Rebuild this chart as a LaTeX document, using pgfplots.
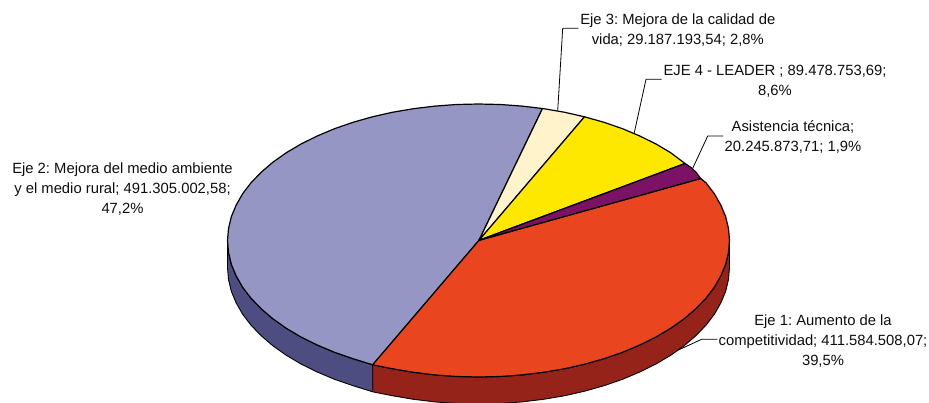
\documentclass[border=0pt]{standalone}
\usepackage{pgfplots}
\pgfplotsset{compat=1.18}
\usepackage{fontspec}
\setmainfont{Liberation Sans}
\frenchspacing
\definecolor{ejeA}{HTML}{E9451E}
\definecolor{ejeAs}{HTML}{95231A}
\definecolor{ejeB}{HTML}{9696C4}
\definecolor{ejeBs}{HTML}{4D4D82}
\definecolor{ejeC}{HTML}{FFF3CC}
\definecolor{ejeD}{HTML}{FFE800}
\definecolor{asis}{HTML}{7B1266}
\tikzset{lbl/.style={font=\fontsize{14.8}{20}\selectfont, align=center, anchor=center, inner sep=0pt, text=black!95}}
\begin{document}
\begin{tikzpicture}[x=1pt,y=1pt]
\begin{axis}[
  scale only axis, width=929pt, height=402pt,
  xmin=0, xmax=929, ymin=0, ymax=402, y dir=reverse,
  hide axis, clip=true, at={(0pt,0pt)}, anchor=south west,
  every axis plot/.style={line join=round}
]
% side of Eje 2
\addplot[fill=ejeBs, draw=black, line width=0.9pt] coordinates {
(227.5,240.5)(228.5,252.4)(231.3,264.2)(236.1,275.8)(242.6,287.2)(251.0,298.2)(261.1,308.7)(272.9,318.8)(286.2,328.2)(301.0,337.0)(317.2,345.0)(334.5,352.3)(353.0,358.7)(372.7,364.8)
(372.7,391.8)(353.0,385.7)(334.5,379.3)(317.2,372.0)(301.0,364.0)(286.2,355.2)(272.9,345.8)(261.1,335.7)(251.0,325.2)(242.6,314.2)(236.1,302.8)(231.3,291.2)(228.5,279.4)(227.5,267.5)} --cycle;
% side of Eje 1
\addplot[fill=ejeAs, draw=black, line width=0.9pt] coordinates {
(372.7,364.8)(392.7,368.8)(413.5,372.3)(434.9,374.9)(456.6,376.5)(478.5,377.0)(500.4,376.5)(522.1,374.9)(543.5,372.3)(564.3,368.8)(584.6,364.2)(604.0,358.7)(622.5,352.3)(639.8,345.0)(656.0,337.0)(670.8,328.2)(684.1,318.8)(695.9,308.7)(706.0,298.2)(714.4,287.2)(720.9,275.8)(725.7,264.2)(728.5,252.4)(729.5,240.5)
(729.5,267.5)(728.5,279.4)(725.7,291.2)(720.9,302.8)(714.4,314.2)(706.0,325.2)(695.9,335.7)(684.1,345.8)(670.8,355.2)(656.0,364.0)(639.8,372.0)(622.5,379.3)(604.0,385.7)(584.6,391.2)(564.3,395.8)(543.5,399.3)(522.1,401.9)(500.4,403.5)(478.5,404.0)(456.6,403.5)(434.9,401.9)(413.5,399.3)(392.7,395.8)(372.7,391.8)} --cycle;
% Eje 2
\addplot[fill=ejeB, draw=black, line width=1.2pt] coordinates {
(479,240.3)(542.5,108.5)(522.1,106.1)(500.4,104.5)(478.5,104.0)(456.6,104.5)(434.9,106.1)(413.5,108.7)(392.7,112.2)(372.4,116.8)(353.0,122.3)(334.5,128.7)(317.2,136.0)(301.0,144.0)(286.2,152.8)(272.9,162.2)(261.1,172.3)(251.0,182.8)(242.6,193.8)(236.1,205.2)(231.3,216.8)(228.5,228.6)(227.5,240.5)(228.5,252.4)(231.3,264.2)(236.1,275.8)(242.6,287.2)(251.0,298.2)(261.1,308.7)(272.9,318.8)(286.2,328.2)(301.0,337.0)(317.2,345.0)(334.5,352.3)(353.0,358.7)(372.7,364.8)} --cycle;
% Eje 1
\addplot[fill=ejeA, draw=black, line width=1.2pt] coordinates {
(479,240.3)(700.7,178.5)(706.0,182.8)(714.4,193.8)(720.9,205.2)(725.7,216.8)(728.5,228.6)(729.5,240.5)(728.5,252.4)(725.7,264.2)(720.9,275.8)(714.4,287.2)(706.0,298.2)(695.9,308.7)(684.1,318.8)(670.8,328.2)(656.0,337.0)(639.8,345.0)(622.5,352.3)(604.0,358.7)(584.6,364.2)(564.3,368.8)(543.5,372.3)(522.1,374.9)(500.4,376.5)(478.5,377.0)(456.6,376.5)(434.9,374.9)(413.5,372.3)(392.7,368.8)(372.7,364.8)} --cycle;
% Eje 3
\addplot[fill=ejeC, draw=black, line width=1.2pt] coordinates {
(479,240.3)(542.5,108.5)(564.3,112.2)(584.5,116.8)} --cycle;
% Eje 4
\addplot[fill=ejeD, draw=black, line width=1.2pt] coordinates {
(479,240.3)(584.5,116.8)(604.0,122.3)(622.5,128.7)(639.8,136.0)(656.0,144.0)(670.8,152.8)(685,163.5)} --cycle;
% Asistencia
\addplot[fill=asis, draw=black, line width=1.2pt] coordinates {
(479,240.3)(685,163.5)(691,167.5)(696,172.3)(700.7,178.5)} --cycle;
% leader lines
\addplot[draw=black, line width=0.8pt] coordinates {(557.7,110.7)(562.7,28.3)(578.3,28.3)};
\addplot[draw=black, line width=0.8pt] coordinates {(634.3,132.7)(646,79.3)(661.7,79.3)};
\addplot[draw=black, line width=0.8pt] coordinates {(692.7,168.3)(707.7,136)(723.3,136)};
\addplot[draw=black, line width=0.8pt] coordinates {(678.3,350)(701.7,339.3)(717.3,339.3)};
% labels
\node[lbl] at (axis cs:677.8,30) {Eje 3: Mejora de la calidad de\\vida; 29.187.193,54; 2,8\%};
\node[lbl] at (axis cs:775,81.5) {EJE 4 - LEADER ; 89.478.753,69;\\8,6\%};
\node[lbl] at (axis cs:793,136.5) {Asistencia técnica;\\20.245.873,71; 1,9\%};
\node[lbl] at (axis cs:823,341.5) {Eje 1: Aumento de la\\competitividad; 411.584.508,07;\\39,5\%};
\node[lbl] at (axis cs:122.5,189.5) {Eje 2: Mejora del medio ambiente\\y el medio rural; 491.305.002,58;\\47,2\%};
\end{axis}
\pgfresetboundingbox
\path[use as bounding box] (0pt,0pt) rectangle (929pt,402pt);
\end{tikzpicture}
\end{document}
